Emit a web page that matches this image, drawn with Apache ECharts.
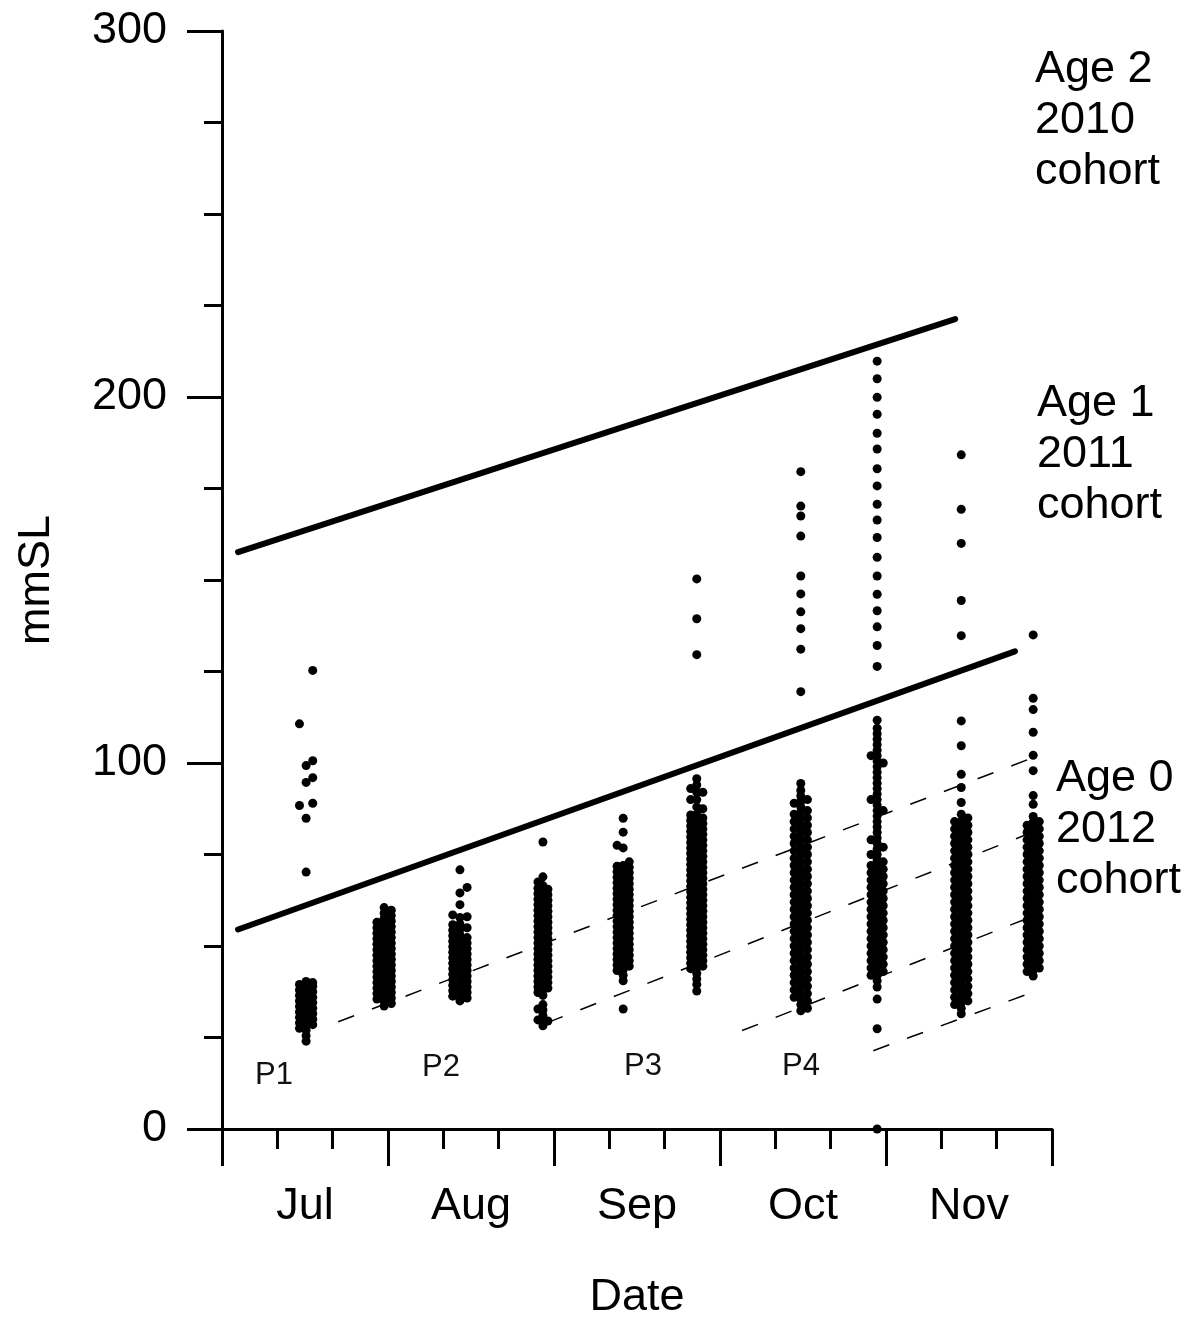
<!DOCTYPE html>
<html>
<head>
<meta charset="utf-8">
<script src="https://cdn.jsdelivr.net/npm/echarts@6/dist/echarts.min.js"></script>
<style>
html,body{margin:0;padding:0;background:#fff;}
#chart{width:1191px;height:1325px;}
</style>
</head>
<body>
<div id="chart"></div>
<script>
// ---------------- data ----------------
const months = ['Jul', 'Aug', 'Sep', 'Oct', 'Nov'];
const yTicks = [0, 100, 200, 300];

// sampling days (days since 1 Jul, 30-day months), three sub-positions per sample
const sampleLeft  = [14.0, 28.0, 41.7, 57.1, 71.4, 84.7, 103.4, 117.3, 132.4, 145.5];
const sampleMid   = [15.2, 29.3, 43.0, 58.0, 72.5, 85.8, 104.6, 118.4, 133.6, 146.6];
const sampleRight = [16.4, 30.6, 44.3, 58.9, 73.6, 86.9, 105.8, 119.5, 134.8, 147.7];

// standard lengths (mm SL)
const lenLeft = [
  [27.5, 29, 30.5, 32, 33.5, 35, 36.5, 38, 39.5, 88.4, 110.7],
  [35.5, 37, 38.5, 40, 41.5, 43, 44.5, 46, 47.5, 49, 50.5, 52, 53.5, 55, 56.5],
  [36.3, 37.8, 39.3, 40.8, 42.3, 43.8, 45.3, 46.8, 48.3, 49.8, 51.3, 52.8, 54.3, 55.8, 58.5],
  [29.8, 32.8, 37.3, 38.8, 40.3, 41.8, 43.3, 44.8, 46.3, 47.8, 49.3, 50.8, 52.3, 53.8, 55.3, 56.8, 58.3, 59.8, 61.3, 62.8, 64.3, 65.8, 67.5],
  [43.3, 44.8, 46.3, 47.8, 49.3, 50.8, 52.3, 53.8, 55.3, 56.8, 58.3, 59.8, 61.3, 62.8, 64.3, 65.8, 67.3, 68.8, 70.3, 71.8, 77.5],
  [43.8, 45.3, 46.8, 48.3, 49.8, 51.3, 52.8, 54.3, 55.8, 57.3, 58.8, 60.3, 61.8, 63.3, 64.8, 66.3, 67.8, 69.3, 70.8, 72.3, 73.8, 75.3, 76.8, 78.3, 79.8, 81.3, 82.8, 84.3, 85.8, 90, 93],
  [36, 38, 40, 42, 44, 46, 48, 50, 52, 54, 56, 58, 60, 62, 64, 66, 68, 70, 72, 74, 76, 78, 80, 82, 84, 86, 89],
  [42, 44, 46, 48, 50, 52, 54, 56, 58, 60, 62, 64, 66, 68, 70, 72, 75, 79, 90, 102],
  [34, 36, 38, 40, 42, 44, 46, 48, 50, 52, 54, 56, 58, 60, 62, 64, 66, 68, 70, 72, 74, 76, 78, 80, 82, 84],
  [43, 45, 47, 49, 51, 53, 55, 57, 59, 61, 63, 65, 67, 69, 71, 73, 75, 77, 79, 81, 83]
];
const lenMid = [
  [24, 25.5, 27, 28.5, 30, 31.5, 33, 34.5, 36, 37.5, 39, 40.3, 70.2, 84.9, 94.7, 99.3],
  [33.6, 35, 36.5, 38, 39.5, 41, 42.5, 44, 45.5, 47, 48.5, 50, 51.5, 53, 54.5, 56, 57.5, 59, 60.5],
  [35, 36.5, 38, 39.5, 41, 42.5, 44, 45.5, 47, 48.5, 50, 51.5, 53, 54.5, 56, 57.8, 61.3, 64.5, 70.8],
  [28.2, 29.5, 31, 32.5, 34, 36.5, 38, 39.5, 41, 42.5, 44, 45.5, 47, 48.5, 50, 51.5, 53, 54.5, 56, 57.5, 59, 60.5, 62, 63.5, 65, 66.5, 68.9, 78.4],
  [32.8, 40.5, 42, 43.5, 45, 46.5, 48, 49.5, 51, 52.5, 54, 55.5, 57, 58.5, 60, 61.5, 63, 64.5, 66, 67.5, 69, 70.5, 72, 76.8, 81.1, 84.9],
  [37.7, 39.5, 41, 42.5, 44, 45.5, 47, 48.5, 50, 51.5, 53, 54.5, 56, 57.5, 59, 60.5, 62, 63.5, 65, 66.5, 68, 69.5, 71, 72.5, 74, 75.5, 77, 78.5, 80, 81.5, 83, 84.5, 86, 88, 90, 92, 94, 95.7, 129.6, 139.4, 150.3],
  [32.3, 34, 35.5, 37, 38.5, 40, 41.5, 43, 44.5, 46, 47.5, 49, 50.5, 52, 53.5, 55, 56.5, 58, 59.5, 61, 62.5, 64, 65.5, 67, 68.5, 70, 71.5, 73, 74.5, 76, 77.5, 79, 80.5, 82, 83.5, 85, 86.5, 88, 89.5, 91, 92.5, 94.4, 119.5, 131.1, 136.7, 141.3, 146.2, 151.1, 162.0, 167.5, 170.2, 179.6],
  [0, 27.4, 35.5, 38.8, 40.5, 42, 43.5, 45, 46.5, 48, 49.5, 51, 52.5, 54, 55.5, 57, 58.5, 60, 61.5, 63, 64.5, 66, 67.5, 69, 70.5, 72, 73.5, 75, 76.5, 78, 79.5, 81, 82.5, 84, 85.5, 87, 88.5, 90, 91.5, 93, 94.5, 96, 97.5, 99, 100.5, 102, 103.5, 105, 106.5, 108, 109.5, 111.7, 126.4, 132.1, 137.2, 141.6, 146.1, 151.1, 156.2, 161.6, 166.4, 170.7, 175.7, 180.4, 185.8, 190.1, 195.3, 199.9, 205.0, 209.8],
  [31.5, 33, 34.5, 36, 37.5, 39, 40.5, 42, 43.5, 45, 46.5, 48, 49.5, 51, 52.5, 54, 55.5, 57, 58.5, 60, 61.5, 63, 64.5, 66, 67.5, 69, 70.5, 72, 73.5, 75, 76.5, 78, 79.5, 81, 82.5, 84, 86, 89.2, 93.3, 96.9, 104.7, 111.5, 134.8, 144.4, 160.0, 169.3, 184.2],
  [41.8, 43.3, 44.8, 46.3, 47.8, 49.3, 50.8, 52.3, 53.8, 55.3, 56.8, 58.3, 59.8, 61.3, 62.8, 64.3, 65.8, 67.3, 68.8, 70.3, 71.8, 73.3, 74.8, 76.3, 77.8, 79.3, 80.8, 82.3, 83.8, 85.4, 88.7, 91.1, 97.9, 102.1, 108.4, 114.6, 117.7, 135.0]
];
const lenRight = [
  [28.5, 30, 31.5, 33, 34.5, 36, 37.5, 39, 40, 89.0, 96.0, 100.6, 125.3],
  [34.3, 35.8, 37.3, 38.8, 40.3, 41.8, 43.3, 44.8, 46.3, 47.8, 49.3, 50.8, 52.3, 53.8, 55.3, 56.8, 58.3, 59.8],
  [35.8, 37.3, 38.8, 40.3, 41.8, 43.3, 44.8, 46.3, 47.8, 49.3, 50.8, 52.3, 55, 58, 66],
  [29.5, 38.5, 40, 41.5, 43, 44.5, 46, 47.5, 49, 50.5, 52, 53.5, 55, 56.5, 58, 59.5, 61, 62.5, 64, 65.5],
  [44.5, 46, 47.5, 49, 50.5, 52, 53.5, 55, 56.5, 58, 59.5, 61, 62.5, 64, 65.5, 67, 68.5, 70, 71.5, 73],
  [44.5, 46, 47.5, 49, 50.5, 52, 53.5, 55, 56.5, 58, 59.5, 61, 62.5, 64, 65.5, 67, 68.5, 70, 71.5, 73, 74.5, 76, 77.5, 79, 80.5, 82, 83.5, 85, 87.5, 92],
  [33, 35, 37, 39, 41, 43, 45, 47, 49, 51, 53, 55, 57, 59, 61, 63, 65, 67, 69, 71, 73, 75, 77, 79, 81, 83, 85, 87, 90],
  [43, 45, 47, 49, 51, 53, 55, 57, 59, 61, 63, 65, 67, 69, 71, 73, 77, 87, 100],
  [35, 37, 39, 41, 43, 45, 47, 49, 51, 53, 55, 57, 59, 61, 63, 65, 67, 69, 71, 73, 75, 77, 79, 81, 83, 85],
  [44, 46, 48, 50, 52, 54, 56, 58, 60, 62, 64, 66, 68, 70, 72, 74, 76, 78, 80, 82, 84]
];

// cohort growth lines [day, mmSL]
const age2Line = [[2.9, 157.6], [132.5, 221.3]];
const age1Line = [[2.9, 54.5], [143.3, 130.5]];
// pulse growth trajectories (dashed)
const pulse1Line = [[21.0, 29.3], [147.5, 102.0]];
const pulse2Line = [[58.7, 29.0], [148.0, 82.0]];
const pulse3Line = [[94.0, 26.9], [148.0, 59.0]];
const pulse4Line = [[117.7, 21.4], [148.0, 38.2]];

// ---------------- build ----------------
const points = [];
[[sampleLeft, lenLeft], [sampleMid, lenMid], [sampleRight, lenRight]].forEach(function (pair) {
  const days = pair[0], lens = pair[1];
  lens.forEach(function (arr, i) {
    arr.forEach(function (v) { points.push([days[i], v]); });
  });
});

const FONT = '"Liberation Sans", Arial, Helvetica, sans-serif';
const BLACK = '#000';

function dashed(data) {
  return {
    type: 'line', data: data, xAxisIndex: 0, yAxisIndex: 0,
    showSymbol: false, symbol: 'none', silent: true, z: 1,
    lineStyle: { color: BLACK, width: 1.5, type: [17, 19] }
  };
}
function solid(data) {
  return {
    type: 'line', data: data, xAxisIndex: 0, yAxisIndex: 0,
    showSymbol: false, symbol: 'none', silent: true, z: 4,
    lineStyle: { color: BLACK, width: 6, cap: 'round' }
  };
}

const chart = echarts.init(document.getElementById('chart'), null, { renderer: 'canvas' });

const ageStyle = { fontSize: 45, lineHeight: 51, fontFamily: FONT, fill: BLACK, verticalAlign: 'top' };
const pStyle = { fontSize: 31, fontFamily: FONT, fill: '#111', align: 'center', verticalAlign: 'middle' };

const option = {
  animation: false,
  backgroundColor: '#fff',
  textStyle: { fontFamily: FONT, color: BLACK },
  grid: { left: 222, top: 31, width: 830, height: 1105, containLabel: false },
  xAxis: [
    {
      type: 'value', min: 0, max: 150, interval: 30, position: 'bottom',
      axisLine: { show: true, onZero: false, lineStyle: { color: BLACK, width: 3 } },
      axisTick: { show: true, length: 37, lineStyle: { color: BLACK, width: 3 } },
      minorTick: { show: true, splitNumber: 3, length: 20, lineStyle: { color: BLACK, width: 3 } },
      axisLabel: { show: false },
      splitLine: { show: false }, minorSplitLine: { show: false }
    },
    {
      type: 'category', data: months, position: 'bottom', boundaryGap: true,
      axisLine: { show: false }, axisTick: { show: false }, splitLine: { show: false },
      axisLabel: { show: true, margin: 55, fontSize: 45, color: BLACK, fontFamily: FONT },
      name: 'Date', nameLocation: 'middle', nameGap: 146,
      nameTextStyle: { fontSize: 45, color: BLACK, fontFamily: FONT }
    }
  ],
  yAxis: {
    type: 'value', min: yTicks[0], max: yTicks[yTicks.length - 1], interval: 100,
    axisLine: { show: true, onZero: false, lineStyle: { color: BLACK, width: 3 } },
    axisTick: { show: true, length: 35, lineStyle: { color: BLACK, width: 3 } },
    minorTick: { show: true, splitNumber: 4, length: 18, lineStyle: { color: BLACK, width: 3 } },
    axisLabel: { margin: 55, fontSize: 45, color: BLACK, fontFamily: FONT },
    splitLine: { show: false }, minorSplitLine: { show: false },
    name: 'mmSL', nameLocation: 'middle', nameGap: 163,
    nameTextStyle: { fontSize: 45, color: BLACK, fontFamily: FONT }
  },
  series: [
    dashed(pulse1Line), dashed(pulse2Line), dashed(pulse3Line), dashed(pulse4Line),
    {
      type: 'scatter', data: points, xAxisIndex: 0, yAxisIndex: 0,
      symbol: 'circle', symbolSize: 9, silent: true, z: 3,
      itemStyle: { color: BLACK, opacity: 1 }
    },
    solid(age2Line), solid(age1Line)
  ],
  graphic: [
    { type: 'text', x: 1035, y: 44, style: Object.assign({ text: 'Age 2\n2010\ncohort' }, ageStyle) },
    { type: 'text', x: 1037, y: 378, style: Object.assign({ text: 'Age 1\n2011\ncohort' }, ageStyle) },
    { type: 'text', x: 1056, y: 753, style: Object.assign({ text: 'Age 0\n2012\ncohort' }, ageStyle) },
    { type: 'text', x: 274, y: 1075, style: Object.assign({ text: 'P1' }, pStyle) },
    { type: 'text', x: 441, y: 1067, style: Object.assign({ text: 'P2' }, pStyle) },
    { type: 'text', x: 643, y: 1066, style: Object.assign({ text: 'P3' }, pStyle) },
    { type: 'text', x: 801, y: 1066, style: Object.assign({ text: 'P4' }, pStyle) }
  ]
};
chart.setOption(option);
</script>
</body>
</html>
